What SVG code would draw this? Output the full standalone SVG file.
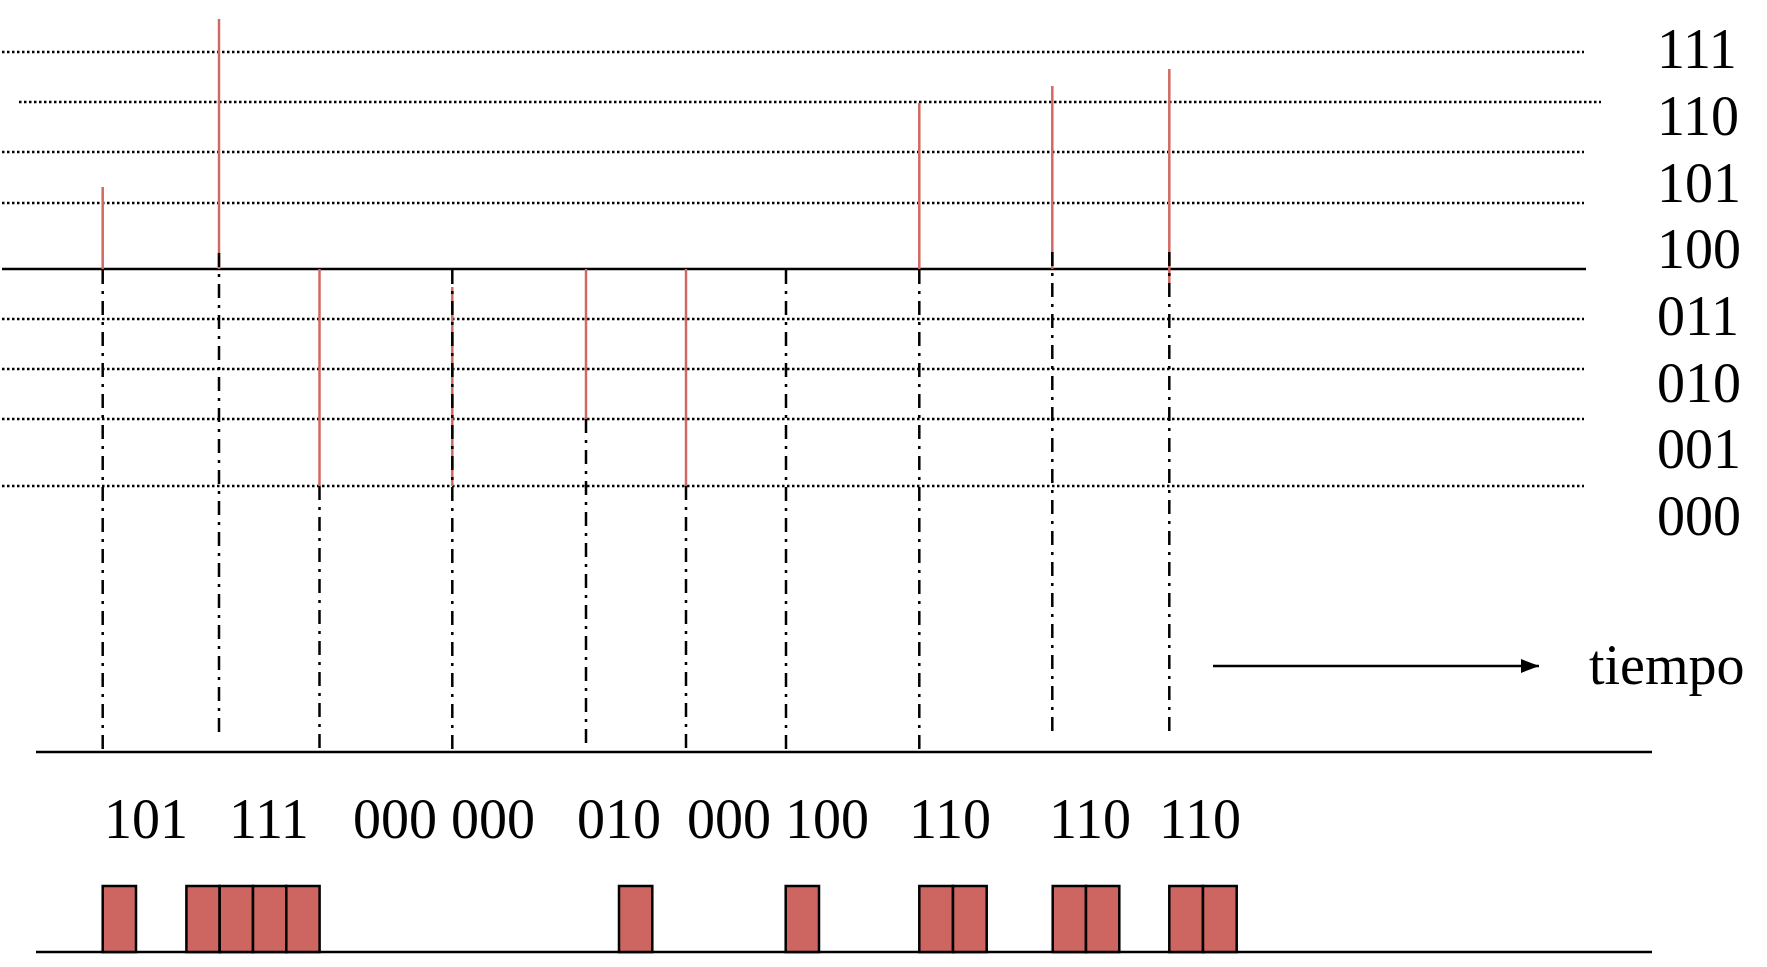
<svg xmlns="http://www.w3.org/2000/svg" width="1767" height="967" viewBox="0 0 1767 967">
<defs>
<style>
.lbl{font-family:"Liberation Serif","Times New Roman",serif;font-size:56px;fill:#000}
.dot{stroke:#000;stroke-width:2.5;stroke-dasharray:2.5 2.5;fill:none}
.solid{stroke:#000;stroke-width:2.5;fill:none}
.dd{stroke:#000;stroke-width:2.5;stroke-dasharray:14 7 3 7;fill:none}
.red{stroke:#D06962;stroke-width:2.5;fill:none}
.bit{fill:#CD6660;stroke:#000;stroke-width:2.5}
</style>
<marker id="ah" markerWidth="18" markerHeight="14" refX="18" refY="7" orient="auto" markerUnits="userSpaceOnUse">
<path d="M0,0 L18,7 L0,14 Z" fill="#000"/>
</marker>
</defs>
<rect width="1767" height="967" fill="#fff"/>

<g id="levels">
<line class="dot" x1="2" y1="52" x2="1584" y2="52"/>
<line class="dot" x1="19" y1="102" x2="1601" y2="102"/>
<line class="dot" x1="2" y1="152" x2="1584" y2="152"/>
<line class="dot" x1="2" y1="203" x2="1584" y2="203"/>
<line class="dot" x1="2" y1="319" x2="1584" y2="319"/>
<line class="dot" x1="2" y1="369" x2="1584" y2="369"/>
<line class="dot" x1="2" y1="419" x2="1584" y2="419"/>
<line class="dot" x1="2" y1="486" x2="1584" y2="486"/>
<line class="solid" x1="2" y1="269" x2="1586" y2="269"/>
</g>

<g id="level-labels">
<text class="lbl" x="1657" y="68">111</text>
<text class="lbl" x="1657" y="135">110</text>
<text class="lbl" x="1657" y="202">101</text>
<text class="lbl" x="1657" y="268">100</text>
<text class="lbl" x="1657" y="335">011</text>
<text class="lbl" x="1657" y="402">010</text>
<text class="lbl" x="1657" y="468">001</text>
<text class="lbl" x="1657" y="535">000</text>
</g>

<g id="samples">
<line class="red" x1="102.7" y1="187" x2="102.7" y2="269"/>
<line class="red" x1="219" y1="19" x2="219" y2="269"/>
<line class="red" x1="319.5" y1="269" x2="319.5" y2="486"/>
<line class="red" x1="452.3" y1="287" x2="452.3" y2="486"/>
<line class="red" x1="586" y1="269" x2="586" y2="419"/>
<line class="red" x1="686" y1="269" x2="686" y2="486"/>
<line class="red" x1="919.3" y1="103" x2="919.3" y2="269"/>
<line class="red" x1="1052.3" y1="86" x2="1052.3" y2="269"/>
<line class="red" x1="1169.3" y1="69" x2="1169.3" y2="283"/>
</g>

<g id="connectors">
<line class="dd" x1="102.7" y1="270" x2="102.7" y2="749"/>
<line class="dd" x1="219" y1="253" x2="219" y2="732"/>
<line class="dd" x1="319.5" y1="486" x2="319.5" y2="749"/>
<line class="dd" x1="452.3" y1="270" x2="452.3" y2="749"/>
<line class="dd" x1="586" y1="419" x2="586" y2="749"/>
<line class="dd" x1="686" y1="486" x2="686" y2="749"/>
<line class="dd" x1="786" y1="270" x2="786" y2="749"/>
<line class="dd" x1="919.3" y1="270" x2="919.3" y2="749"/>
<line class="dd" x1="1052.3" y1="252" x2="1052.3" y2="732"/>
<line class="dd" x1="1169.3" y1="252" x2="1169.3" y2="732"/>
<line class="solid" x1="1213" y1="666" x2="1539" y2="666" marker-end="url(#ah)"/>
</g>

<g id="time-label">
<text class="lbl" x="1589" y="684">tiempo</text>
</g>

<g id="axes">
<line class="solid" x1="36" y1="752" x2="1652" y2="752"/>
<line class="solid" x1="36" y1="952" x2="1652" y2="952"/>
</g>

<g id="codes">
<text class="lbl" x="104" y="838">101</text>
<text class="lbl" x="229" y="838">111</text>
<text class="lbl" x="353" y="838">000 000</text>
<text class="lbl" x="577" y="838">010</text>
<text class="lbl" x="687" y="838">000 100</text>
<text class="lbl" x="909" y="838">110</text>
<text class="lbl" x="1049" y="838">110</text>
<text class="lbl" x="1159" y="838">110</text>
</g>

<g id="pulses">
<rect class="bit" x="102.7" y="886" width="33.3" height="66"/>
<rect class="bit" x="186.4" y="886" width="33.3" height="66"/>
<rect class="bit" x="219.7" y="886" width="33.3" height="66"/>
<rect class="bit" x="253" y="886" width="33.3" height="66"/>
<rect class="bit" x="286.3" y="886" width="33.3" height="66"/>
<rect class="bit" x="619" y="886" width="33.3" height="66"/>
<rect class="bit" x="785.7" y="886" width="33.3" height="66"/>
<rect class="bit" x="919.3" y="886" width="33.7" height="66"/>
<rect class="bit" x="953" y="886" width="33.7" height="66"/>
<rect class="bit" x="1052.7" y="886" width="33.3" height="66"/>
<rect class="bit" x="1086" y="886" width="33.3" height="66"/>
<rect class="bit" x="1169.3" y="886" width="33.7" height="66"/>
<rect class="bit" x="1203" y="886" width="33.7" height="66"/>
</g>
</svg>
